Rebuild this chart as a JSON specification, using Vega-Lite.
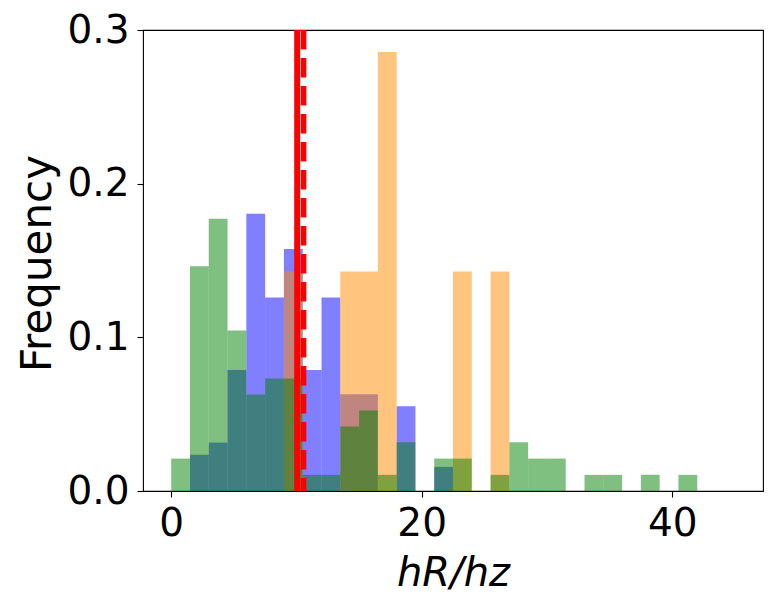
{
  "$schema": "https://vega.github.io/schema/vega-lite/v6.json",
  "width": 620,
  "height": 461,
  "autosize": "none",
  "padding": {"left": 143, "top": 30, "right": 12, "bottom": 117},
  "background": "white",
  "config": {
    "font": "DejaVu Sans",
    "view": {"stroke": "black", "strokeWidth": 1.1},
    "axis": {
      "domain": false,
      "grid": false,
      "ticks": true,
      "tickColor": "black",
      "tickWidth": 1.1,
      "tickSize": 6,
      "labelColor": "black",
      "labelFont": "DejaVu Sans",
      "labelFontSize": 39,
      "titleColor": "black",
      "titleFont": "DejaVu Sans",
      "titleFontWeight": "normal"
    }
  },
  "datasets": {
    "hist": [
      {"sample": "blue", "lo": 1.5, "hi": 3.0, "freq": 0.0236},
      {"sample": "blue", "lo": 3.0, "hi": 4.5, "freq": 0.0315},
      {"sample": "blue", "lo": 4.5, "hi": 6.0, "freq": 0.0787},
      {"sample": "blue", "lo": 6.0, "hi": 7.5, "freq": 0.1805},
      {"sample": "blue", "lo": 7.5, "hi": 9.0, "freq": 0.126},
      {"sample": "blue", "lo": 9.0, "hi": 10.5, "freq": 0.1575},
      {"sample": "blue", "lo": 10.5, "hi": 12.0, "freq": 0.0787},
      {"sample": "blue", "lo": 12.0, "hi": 13.5, "freq": 0.126},
      {"sample": "blue", "lo": 13.5, "hi": 15.0, "freq": 0.063},
      {"sample": "blue", "lo": 15.0, "hi": 16.5, "freq": 0.063},
      {"sample": "blue", "lo": 18.0, "hi": 19.5, "freq": 0.0551},
      {"sample": "blue", "lo": 21.0, "hi": 22.5, "freq": 0.0157},
      {"sample": "orange", "lo": 9.0, "hi": 10.5, "freq": 0.1429},
      {"sample": "orange", "lo": 13.5, "hi": 15.0, "freq": 0.1429},
      {"sample": "orange", "lo": 15.0, "hi": 16.5, "freq": 0.1429},
      {"sample": "orange", "lo": 16.5, "hi": 18.0, "freq": 0.2857},
      {"sample": "orange", "lo": 22.5, "hi": 24.0, "freq": 0.1429},
      {"sample": "orange", "lo": 25.5, "hi": 27.0, "freq": 0.1429},
      {"sample": "green", "lo": 0.0, "hi": 1.5, "freq": 0.0211},
      {"sample": "green", "lo": 1.5, "hi": 3.0, "freq": 0.1462},
      {"sample": "green", "lo": 3.0, "hi": 4.5, "freq": 0.1772},
      {"sample": "green", "lo": 4.5, "hi": 6.0, "freq": 0.1044},
      {"sample": "green", "lo": 6.0, "hi": 7.5, "freq": 0.0628},
      {"sample": "green", "lo": 7.5, "hi": 9.0, "freq": 0.0732},
      {"sample": "green", "lo": 9.0, "hi": 10.5, "freq": 0.0732},
      {"sample": "green", "lo": 10.5, "hi": 12.0, "freq": 0.0105},
      {"sample": "green", "lo": 12.0, "hi": 13.5, "freq": 0.0105},
      {"sample": "green", "lo": 13.5, "hi": 15.0, "freq": 0.0419},
      {"sample": "green", "lo": 15.0, "hi": 16.5, "freq": 0.0524},
      {"sample": "green", "lo": 16.5, "hi": 18.0, "freq": 0.0105},
      {"sample": "green", "lo": 18.0, "hi": 19.5, "freq": 0.0317},
      {"sample": "green", "lo": 21.0, "hi": 22.5, "freq": 0.0211},
      {"sample": "green", "lo": 22.5, "hi": 24.0, "freq": 0.0211},
      {"sample": "green", "lo": 25.5, "hi": 27.0, "freq": 0.0105},
      {"sample": "green", "lo": 27.0, "hi": 28.5, "freq": 0.0317},
      {"sample": "green", "lo": 28.5, "hi": 30.0, "freq": 0.0211},
      {"sample": "green", "lo": 30.0, "hi": 31.5, "freq": 0.0211},
      {"sample": "green", "lo": 33.0, "hi": 34.5, "freq": 0.0105},
      {"sample": "green", "lo": 34.5, "hi": 36.0, "freq": 0.0105},
      {"sample": "green", "lo": 37.5, "hi": 39.0, "freq": 0.0105},
      {"sample": "green", "lo": 40.5, "hi": 42.0, "freq": 0.0105}
    ],
    "lines": [
      {"kind": "solid", "value": 10.06},
      {"kind": "dashed", "value": 10.57}
    ]
  },
  "layer": [
    {
      "data": {"name": "hist"},
      "transform": [{"filter": "datum.sample == 'blue'"}],
      "mark": {"type": "bar", "color": "blue", "opacity": 0.5, "strokeWidth": 0},
      "encoding": {
        "x": {
          "field": "lo",
          "type": "quantitative",
          "scale": {"domain": [-2.25, 47.25], "nice": false, "zero": false},
          "axis": {
            "values": [0, 20, 40],
            "labelPadding": 7,
            "labelFlush": false,
            "title": "hR/hz",
            "titleFontSize": 40,
            "titleFontStyle": "italic",
            "titleBaseline": "alphabetic",
            "titleY": 94
          }
        },
        "x2": {"field": "hi"},
        "y": {
          "field": "freq",
          "type": "quantitative",
          "stack": null,
          "scale": {"domain": [0, 0.3], "nice": false},
          "axis": {
            "values": [0, 0.1, 0.2, 0.3],
            "format": ".1f",
            "labelPadding": 8,
            "labelFlush": false,
            "title": "Frequency",
            "titleFontSize": 42,
            "titleBaseline": "alphabetic",
            "titleAngle": -90,
            "titleX": -93,
            "titleY": 233
          }
        },
        "y2": {"datum": 0}
      }
    },
    {
      "data": {"name": "hist"},
      "transform": [{"filter": "datum.sample == 'orange'"}],
      "mark": {"type": "bar", "color": "darkorange", "opacity": 0.5, "strokeWidth": 0},
      "encoding": {
        "x": {"field": "lo", "type": "quantitative"},
        "x2": {"field": "hi"},
        "y": {"field": "freq", "type": "quantitative", "stack": null},
        "y2": {"datum": 0}
      }
    },
    {
      "data": {"name": "hist"},
      "transform": [{"filter": "datum.sample == 'green'"}],
      "mark": {"type": "bar", "color": "green", "opacity": 0.5, "strokeWidth": 0},
      "encoding": {
        "x": {"field": "lo", "type": "quantitative"},
        "x2": {"field": "hi"},
        "y": {"field": "freq", "type": "quantitative", "stack": null},
        "y2": {"datum": 0}
      }
    },
    {
      "data": {"name": "lines"},
      "transform": [{"filter": "datum.kind == 'solid'"}],
      "mark": {"type": "rule", "color": "red", "strokeWidth": 6},
      "encoding": {"x": {"field": "value", "type": "quantitative"}}
    },
    {
      "data": {"name": "lines"},
      "transform": [{"filter": "datum.kind == 'dashed'"}],
      "mark": {"type": "rule", "color": "red", "strokeWidth": 5.5, "strokeDash": [19.5, 8.5]},
      "encoding": {"x": {"field": "value", "type": "quantitative"}}
    }
  ]
}
